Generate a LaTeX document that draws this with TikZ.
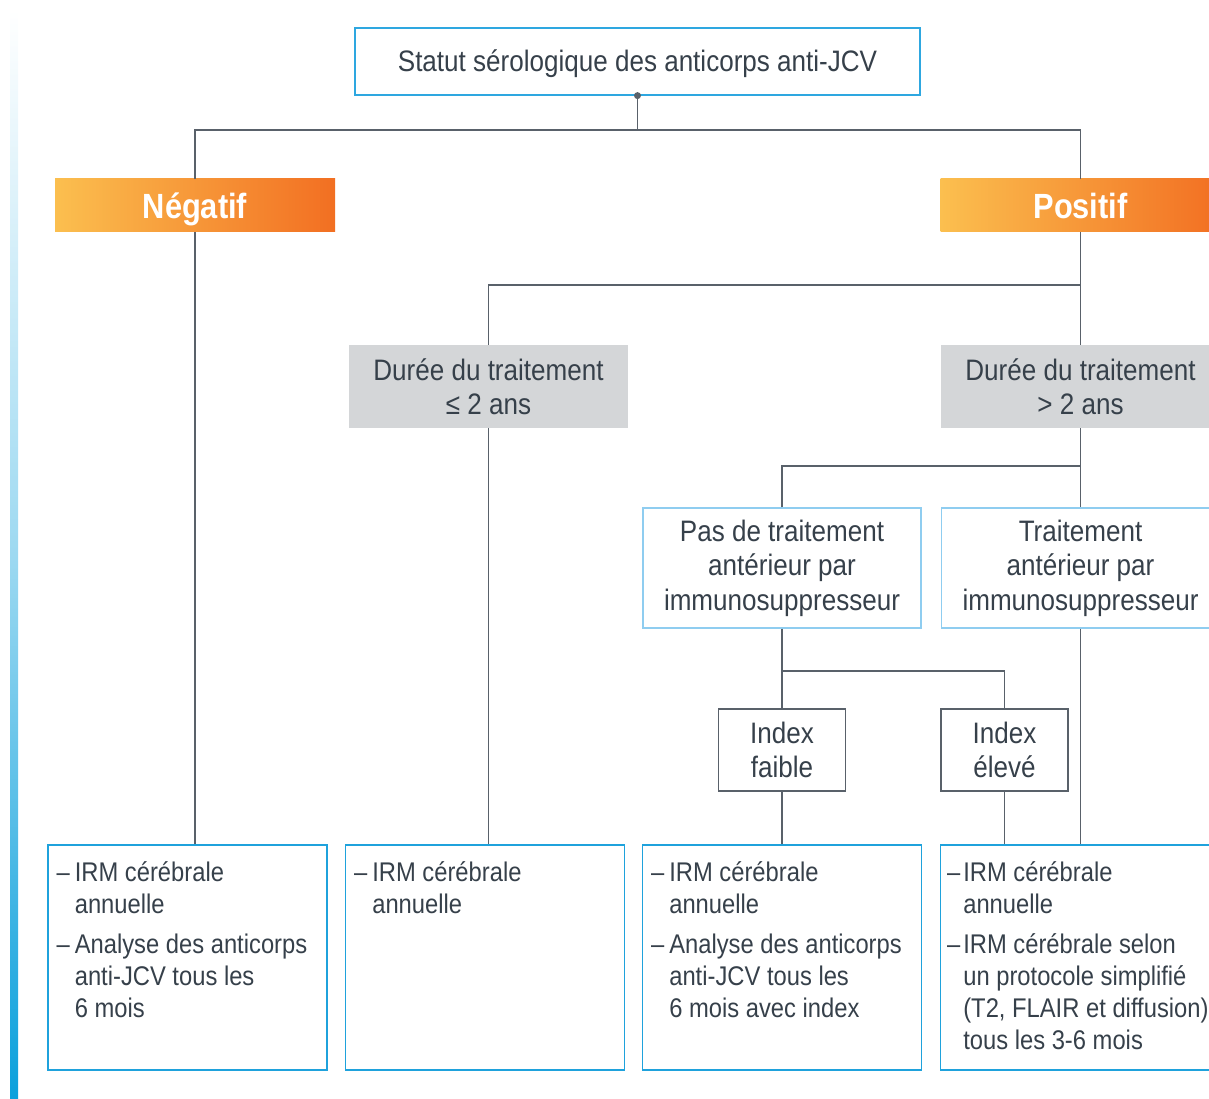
\documentclass[tikz,border=0pt]{standalone}
\usepackage{fontspec}
\setmainfont{Liberation Sans}[FakeStretch=0.88]
\usepackage{array}

\definecolor{topblue}{HTML}{2EA7E0}
\definecolor{paleblue}{HTML}{8FCDF0}
\definecolor{listblue}{HTML}{1FA2DC}
\definecolor{barblue}{HTML}{0AA0DC}
\definecolor{linegray}{HTML}{59616A}
\definecolor{boxgray}{HTML}{D4D6D8}
\definecolor{inkgray}{HTML}{36404A}
\definecolor{orangelight}{HTML}{FBBF4F}
\definecolor{orangedark}{HTML}{F26F22}

\begin{document}
\begin{tikzpicture}[x=1pt, y=-1pt,
    every node/.style={text=inkgray, font=\fontsize{29.6}{34.5}\selectfont, inner sep=0pt},
    link/.style={draw=linegray, line width=1.3pt},
    headbox/.style={draw=topblue, line width=1.2pt, minimum width=565pt, minimum height=67pt, text depth=2pt},
    resultbox/.style={shade, left color=orangelight, right color=orangedark, text=white, text depth=0pt,
        font=\fontsize{35}{40}\selectfont\bfseries, minimum width=280pt, minimum height=53pt},
    durationbox/.style={fill=boxgray, align=center, minimum width=279pt, minimum height=83pt},
    historybox/.style={draw=paleblue, line width=1.2pt, align=center, minimum width=278pt, minimum height=120pt},
    indexbox/.style={draw=linegray, line width=1.3pt, align=center, minimum width=127pt, minimum height=82pt},
    followbox/.style={draw=listblue, line width=1.2pt, minimum width=279pt, minimum height=225pt},
    followtext/.style={anchor=base west, font=\fontsize{27}{32}\selectfont}
  ]
  \useasboundingbox (0,0) rectangle (1209,1099);

  % side bar
  \fill[top color=white, bottom color=barblue, middle color=barblue!40] (10,10) rectangle (18,1099);

  % top of the tree
  \node[headbox] (statut) at (637.5,61.5) {Statut sérologique des anticorps anti-JCV};
  \node[resultbox] (negatif) at (195,205.5) {Négatif};
  \node[resultbox] (positif) at (1080.5,205.5) {Positif};
  \coordinate (split-top) at (637.5,130);
  \draw[link] (statut.south) -- (split-top);
  \draw[link] (negatif.north) |- (split-top) -| (positif.north);
  \fill[linegray] (statut.south) circle (3.5);

  % treatment duration
  \node[durationbox] (duree-1) at (488.5,386.5) {Durée du traitement\\≤ 2 ans};
  \node[durationbox] (duree-2) at (1080.5,386.5) {Durée du traitement\\> 2 ans};
  \coordinate (split-pos) at (1080.5,285);
  \draw[link] (positif.south) -- (duree-2.north);
  \draw[link] (duree-1.north) |- (split-pos);

  % previous treatment
  \node[historybox] (pas-trait) at (782,568) {Pas de traitement\\antérieur par\\immunosuppresseur};
  \node[historybox] (trait) at (1080.5,568) {Traitement\\antérieur par\\immunosuppresseur};
  \coordinate (split-duree) at (1080.5,466);
  \draw[link] (duree-2.south) -- (trait.north);
  \draw[link] (pas-trait.north) |- (split-duree);

  % index
  \node[indexbox] (faible) at (782,750) {Index\\faible};
  \node[indexbox] (eleve) at (1004.5,750) {Index\\élevé};
  \coordinate (split-index) at (782,671);
  \draw[link] (pas-trait.south) -- (faible.north);
  \draw[link] (split-index) -| (eleve.north);

  % follow-up boxes
  \node[followbox] (suivi-1) at (187.5,957.5) {};
  \node[followbox] (suivi-2) at (485,957.5) {};
  \node[followbox] (suivi-3) at (782,957.5) {};
  \node[followbox] (suivi-4) at (1080,957.5) {};
  \draw[link] (negatif.south) -- (negatif.south |- suivi-1.north);
  \draw[link] (duree-1.south) -- (duree-1.south |- suivi-2.north);
  \draw[link] (faible.south) -- (faible.south |- suivi-3.north);
  \draw[link] (eleve.south) -- (eleve.south |- suivi-4.north);
  \draw[link] (trait.south) -- (trait.south |- suivi-4.north);

  \node[followtext] at ([shift={(9,37)}]suivi-1.north west) {\begin{tabular}[t]{@{}l@{\hspace{5pt}}l@{}}
    –& IRM cérébrale\\ & annuelle\\[8pt]
    –& Analyse des anticorps\\ & anti-JCV tous les\\ & 6 mois\end{tabular}};
  \node[followtext] at ([shift={(9,37)}]suivi-2.north west) {\begin{tabular}[t]{@{}l@{\hspace{5pt}}l@{}}
    –& IRM cérébrale\\ & annuelle\end{tabular}};
  \node[followtext] at ([shift={(9,37)}]suivi-3.north west) {\begin{tabular}[t]{@{}l@{\hspace{5pt}}l@{}}
    –& IRM cérébrale\\ & annuelle\\[8pt]
    –& Analyse des anticorps\\ & anti-JCV tous les\\ & 6 mois avec index\end{tabular}};
  \node[followtext] at ([shift={(7,37)}]suivi-4.north west) {\begin{tabular}[t]{@{}l@{\hspace{3pt}}l@{}}
    –& IRM cérébrale\\ & annuelle\\[8pt]
    –& IRM cérébrale selon\\ & un protocole simplifié\\ & (T2, FLAIR et diffusion)\\ & tous les 3-6 mois\end{tabular}};
\end{tikzpicture}
\end{document}
